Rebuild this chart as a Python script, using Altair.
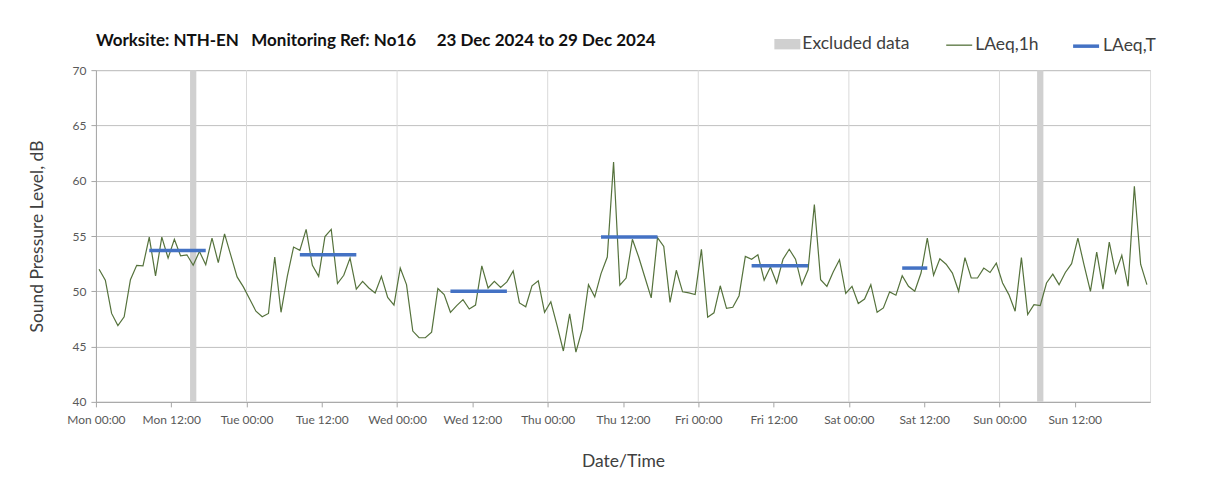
import altair as alt
import pandas as pd

# ---------------- data ----------------
mon = [52.0, 51.0, 48.0, 46.9, 47.7, 51.05, 52.35, 52.3, 54.9, 51.4, 54.9, 53.0,
       54.7, 53.2, 53.3, 52.35, 53.6, 52.4, 54.8, 52.6, 55.2, 53.25, 51.3, 50.4]
tue = [49.3, 48.2, 47.7, 48.0, 53.1, 48.1, 51.35, 54.0, 53.7, 55.6, 52.35, 51.35,
       54.95, 55.6, 50.7, 51.45, 53.0, 50.2, 50.9, 50.3, 49.85, 51.35, 49.45, 48.75]
wed = [52.1, 50.6, 46.4, 45.8, 45.8, 46.3, 50.25, 49.7, 48.1, 48.7, 49.25, 48.4,
       48.75, 52.3, 50.3, 50.9, 50.35, 50.85, 51.85, 48.95, 48.6, 50.5, 50.95, 48.1]
thu = [49.05, 46.9, 44.6, 47.95, 44.5, 46.55, 50.6, 49.5, 51.6, 53.1, 61.7, 50.55,
       51.2, 54.7, 53.1, 51.25, 49.4, 54.85, 54.05, 49.0, 51.9, 49.95, 49.85, 49.7]
fri = [53.8, 47.65, 48.05, 50.5, 48.45, 48.55, 49.6, 53.15, 52.9, 53.3, 51.0, 52.2,
       50.75, 52.9, 53.8, 52.9, 50.6, 51.95, 57.85, 51.05, 50.45, 51.75, 52.85, 49.8]
sat = [50.45, 48.9, 49.3, 50.6, 48.1, 48.5, 49.95, 49.65, 51.4, 50.45, 50.0, 51.65,
       54.8, 51.45, 52.95, 52.45, 51.65, 50.0, 53.05, 51.2, 51.2, 52.1, 51.7, 52.55]
sun = [50.75, 49.7, 48.2, 53.05, 47.9, 48.8, 48.7, 50.75, 51.55, 50.6, 51.7, 52.5,
       54.8, 52.35, 50.0, 53.55, 50.2, 54.45, 51.65, 53.25, 50.45, 59.5, 52.45, 50.6]
laeq_1h = mon + tue + wed + thu + fri + sat + sun

# LAeq,T daytime periods (hours from Mon 00:00, hour-centre of first/last hour)
period_start_h = [8.5, 32.5, 56.5, 80.5, 104.5, 128.5]
period_end_h = [17.5, 41.5, 65.5, 89.5, 113.5, 132.5]
laeq_t = [53.7, 53.3, 50.0, 54.9, 52.3, 52.1]

# excluded data (hours from Mon 00:00)
excl_start_h = [15, 150]
excl_end_h = [16, 151]

day_boundaries_h = [24, 48, 72, 96, 120, 144]

start = pd.Timestamp("2024-12-23 00:00")

def t(h):
    return start + pd.Timedelta(minutes=int(round(h * 60)))

df_line = pd.DataFrame({
    "time": [t(i + 0.5) for i in range(len(laeq_1h))],
    "level": laeq_1h,
    "series": "LAeq,1h",
})
df_t = pd.DataFrame({
    "time": [t(h) for h in period_start_h],
    "t1": [t(h) for h in period_end_h],
    "level": laeq_t,
    "series": "LAeq,T",
})
df_ex = pd.DataFrame({
    "time": [t(h) for h in excl_start_h],
    "t1": [t(h) for h in excl_end_h],
    "series": "Excluded data",
})
df_grid = pd.DataFrame({"time": [t(h) for h in day_boundaries_h]})

FONT = "Lato"
TXT = "#404040"

x_domain = [alt.DateTime(year=2024, month=12, date=23, hours=0),
            alt.DateTime(year=2024, month=12, date=30, hours=0)]
x_ticks = [alt.DateTime(year=2024, month=12, date=23 + d, hours=hh)
           for d in range(7) for hh in (0, 12)]
x_scale = alt.Scale(domain=x_domain, nice=False)
y_scale = alt.Scale(domain=[40, 70], nice=False, zero=False)

x_axis = alt.Axis(values=x_ticks, format="%a %H:%M", title="Date/Time",
                  grid=False, labelFont=FONT, labelFontSize=12, labelColor="#595959",
                  titleFont=FONT, titleFontSize=17.5, titleFontWeight="normal",
                  titleColor=TXT, titlePadding=27, tickSize=5, tickColor="#a6a6a6",
                  domainColor="#a6a6a6", labelPadding=8, labelFlush=False)
y_axis = alt.Axis(values=[40, 45, 50, 55, 60, 65, 70], title="Sound Pressure Level, dB",
                  grid=True, gridColor="#c0c0c0", labelFont=FONT, labelFontSize=12,
                  labelColor="#595959", titleFont=FONT, titleFontSize=17.5,
                  titleFontWeight="normal", titleColor=TXT, titlePadding=26,
                  tickSize=5, tickColor="#a6a6a6", domainColor="#a6a6a6", labelPadding=5)

X = alt.X("time:T", scale=x_scale, axis=x_axis)
Y = alt.Y("level:Q", scale=y_scale, axis=y_axis)

def legend(x, y, stype, sw):
    return alt.Legend(orient="none", legendX=x, legendY=y, title=None,
                      labelFont=FONT, labelFontSize=17.5, labelColor=TXT,
                      symbolType=stype, symbolSize=676, symbolStrokeWidth=sw,
                      labelOffset=2, padding=0)

grid = alt.Chart(df_grid).mark_rule(color="#d9d9d9", strokeWidth=1).encode(x=X)

excluded = alt.Chart(df_ex).mark_rect(opacity=1).encode(
    x=X,
    x2="t1:T",
    color=alt.Color("series:N",
                    scale=alt.Scale(domain=["Excluded data"], range=["#d0d0d0"]),
                    legend=legend(679, -39, "M-1,-0.4H1V0.4H-1Z", 0)),
)

line = alt.Chart(df_line).mark_line(strokeWidth=1.2).encode(
    x=X,
    y=Y,
    color=alt.Color("series:N",
                    scale=alt.Scale(domain=["LAeq,1h"], range=["#55723c"]),
                    legend=legend(850, -39, "stroke", 1.3)),
)

laeqt = alt.Chart(df_t).mark_rule(strokeWidth=3.5).encode(
    x=X,
    x2="t1:T",
    y=Y,
    color=alt.Color("series:N",
                    scale=alt.Scale(domain=["LAeq,T"], range=["#4472c4"]),
                    legend=legend(976, -39, "stroke", 3.5)),
)

title_text = ("Worksite: NTH-EN\u00a0\u00a0\u00a0Monitoring Ref: No16"
              "\u00a0\u00a0\u00a0\u00a0\u00a023 Dec 2024 to 29 Dec 2024")

chart = alt.layer(grid, excluded, line, laeqt).resolve_scale(
    color="independent"
).properties(
    width=1055,
    height=332,
    autosize=alt.AutoSizeParams(type="none"),
    padding={"left": 88, "top": 62, "right": 50, "bottom": 80},
    title=alt.TitleParams(title_text, anchor="start", frame="group", font=FONT,
                          fontSize=17, fontWeight="bold", color="#111111",
                          offset=22, dy=41),
).configure_view(stroke="#bfbfbf", strokeWidth=1).configure(background="white")

chart.save("out.html", embed_options={"renderer": "svg", "actions": False})
